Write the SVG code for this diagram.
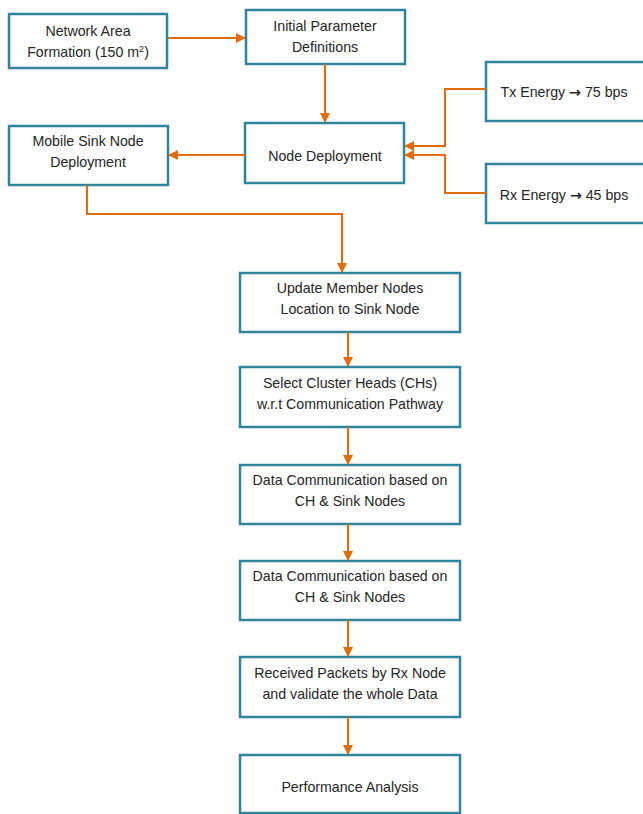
<svg xmlns="http://www.w3.org/2000/svg" width="643" height="814" viewBox="0 0 643 814">
<defs>
<marker id="ah" viewBox="0 0 10 10" refX="9" refY="5" markerWidth="5" markerHeight="5" orient="auto" markerUnits="strokeWidth">
<path d="M0,0 L10,5 L0,10 z" fill="#E36C0A"/>
</marker>
<style>
.box{fill:#fff;stroke:#31849B;stroke-width:2.5}
.t{font-family:"Liberation Sans",Arial,sans-serif;font-size:14.2px;fill:#262626;text-anchor:middle}
.ar{font-family:"DejaVu Sans",sans-serif;font-weight:bold}
.c{fill:none;stroke:#E36C0A;stroke-width:2;marker-end:url(#ah)}
</style>
</defs>
<rect width="643" height="814" fill="#fff"/>
<g id="n1"><rect class="box" x="9" y="14" width="158" height="54"/><text class="t" x="88" y="36">Network Area</text><text class="t" x="88" y="57">Formation (150 m<tspan font-size="9" dy="-5">2</tspan><tspan dy="5">)</tspan></text></g>
<g id="n2"><rect class="box" x="246" y="10" width="159" height="54"/><text class="t" x="325" y="31">Initial Parameter</text><text class="t" x="325" y="52">Definitions</text></g>
<g id="n3"><rect class="box" x="245" y="123" width="159" height="60"/><text class="t" x="325" y="161">Node Deployment</text></g>
<g id="n4"><rect class="box" x="9" y="126" width="159" height="59"/><text class="t" x="88" y="146">Mobile Sink Node</text><text class="t" x="88" y="167">Deployment</text></g>
<g id="n5"><rect class="box" x="486" y="62" width="160" height="59"/><text class="t" x="564" y="97">Tx Energy <tspan class="ar">→</tspan> 75 bps</text></g>
<g id="n6"><rect class="box" x="486" y="164" width="160" height="59"/><text class="t" x="564" y="200">Rx Energy <tspan class="ar">→</tspan> 45 bps</text></g>
<g id="n7"><rect class="box" x="240" y="273" width="220" height="59"/><text class="t" x="350" y="293">Update Member Nodes</text><text class="t" x="350" y="314">Location to Sink Node</text></g>
<g id="n8"><rect class="box" x="240" y="367" width="220" height="60"/><text class="t" x="350" y="388">Select Cluster Heads (CHs)</text><text class="t" x="350" y="409">w.r.t Communication Pathway</text></g>
<g id="n9"><rect class="box" x="240" y="465" width="220" height="59"/><text class="t" x="350" y="485">Data Communication based on</text><text class="t" x="350" y="506">CH &amp; Sink Nodes</text></g>
<g id="n10"><rect class="box" x="240" y="561" width="220" height="59"/><text class="t" x="350" y="581">Data Communication based on</text><text class="t" x="350" y="602">CH &amp; Sink Nodes</text></g>
<g id="n11"><rect class="box" x="240" y="657" width="220" height="60"/><text class="t" x="350" y="678">Received Packets by Rx Node</text><text class="t" x="350" y="699">and validate the whole Data</text></g>
<g id="n12"><rect class="box" x="240" y="755" width="220" height="58"/><text class="t" x="350" y="792">Performance Analysis</text></g>
<g id="connectors">
<path class="c" d="M168,38 H245"/>
<path class="c" d="M325,64 V122"/>
<path class="c" d="M245,155 H169"/>
<path class="c" d="M486,89 H445 V146 H405"/>
<path class="c" d="M486,193 H445 V155 H405"/>
<path class="c" d="M87,185 V214 H342 V272"/>
<path class="c" d="M348,332 V366"/>
<path class="c" d="M348,427 V464"/>
<path class="c" d="M348,524 V560"/>
<path class="c" d="M348,620 V656"/>
<path class="c" d="M348,717 V754"/>
</g>
</svg>
